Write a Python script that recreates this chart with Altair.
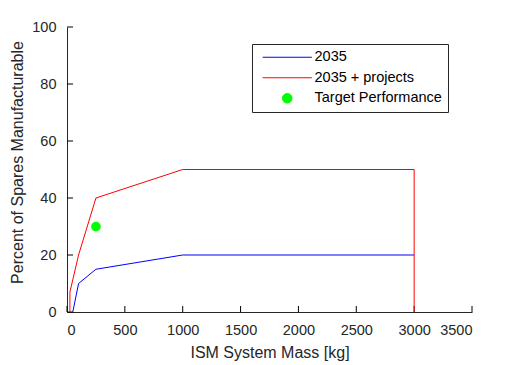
import altair as alt
import pandas as pd

# --- data ---
red_x = [25, 25, 100, 250, 1000, 3000, 3000]
red_y = [0, 7, 20, 40, 50, 50, 0]
blue_x = [50, 100, 250, 1000, 3000]
blue_y = [0, 10, 15, 20, 20]
target_x = [250]
target_y = [30]

series_names = ["2035", "2035 + projects", "Target Performance"]
series_colors = ["#0000ff", "#ff0000", "#00ff00"]
# legend / marker glyphs (unit paths scaled by sqrt(size)/2 = 6 px)
legend_shapes = ["M-4.1,0H4.1", "M-4.1,0H4.1",
                 "M-0.8,0A0.8,0.8 0 1,1 0.8,0A0.8,0.8 0 1,1 -0.8,0Z"]

x_ticks = [0, 500, 1000, 1500, 2000, 2500, 3000, 3500]
y_ticks = [0, 20, 40, 60, 80, 100]

lines_df = pd.concat([
    pd.DataFrame({"x": blue_x, "y": blue_y, "series": series_names[0],
                  "idx": range(len(blue_x))}),
    pd.DataFrame({"x": red_x, "y": red_y, "series": series_names[1],
                  "idx": range(len(red_x))}),
])
target_df = pd.DataFrame({"x": target_x, "y": target_y, "series": series_names[2]})
xt_df = pd.DataFrame({"x": x_ticks})
yt_df = pd.DataFrame({"y": y_ticks})

FONT = "Liberation Sans"
AX = "#262626"

legend = alt.Legend(
    title=None, orient="none", legendX=185, legendY=17,
    direction="vertical", fillColor="white", strokeColor=AX,
    padding=6, rowPadding=5.5, symbolStrokeWidth=1, symbolSize=144,
    symbolOffset=22,
    labelFont=FONT, labelFontSize=14.5, labelColor="black", labelOffset=20,
    labelLimit=300,
)

color_scale = alt.Scale(domain=series_names, range=series_colors)
shape_scale = alt.Scale(domain=series_names, range=legend_shapes)

x_enc = alt.X("x:Q", scale=alt.Scale(domain=[0, 3500], nice=False),
              axis=alt.Axis(values=x_ticks, title="ISM System Mass [kg]", format="d"))
y_enc = alt.Y("y:Q", scale=alt.Scale(domain=[0, 100], nice=False),
              axis=alt.Axis(values=y_ticks, title="Percent of Spares Manufacturable",
                            titleY=135))

lines = alt.Chart(lines_df).mark_line(strokeWidth=1, clip=True).encode(
    x=x_enc, y=y_enc,
    color=alt.Color("series:N", scale=color_scale, legend=legend),
    detail="series:N",
    order="idx:Q",
)

points = alt.Chart(target_df).mark_point(filled=True, opacity=1, size=144).encode(
    x=x_enc, y=y_enc,
    color=alt.Color("series:N", scale=color_scale, legend=legend),
    shape=alt.Shape("series:N", scale=shape_scale, legend=legend),
)

xticks = alt.Chart(xt_df).mark_rule(color="#000000", strokeWidth=1, opacity=1).encode(
    x=x_enc, y=alt.value(285), y2=alt.value(279))
yticks = alt.Chart(yt_df).mark_rule(color="#000000", strokeWidth=1, opacity=1).encode(
    y=y_enc, x=alt.value(0), x2=alt.value(6))

chart = alt.layer(xticks, yticks, lines, points).properties(
    width=405, height=285,
    autosize=alt.AutoSizeParams(type="none"),
    padding={"left": 59, "top": 19, "right": 42, "bottom": 53},
    background="white",
).configure_view(stroke=None).configure_axis(
    domainColor=AX, domainWidth=1,
    ticks=False, grid=False,
    labelFont=FONT, labelFontSize=14.5, labelColor=AX, labelPadding=11,
    titleFont=FONT, titleFontSize=16, titleColor=AX, titleFontWeight="normal",
).configure_axisX(titlePadding=8).configure_axisY(titlePadding=6)

chart.save("out.html", embed_options={"renderer": "svg", "actions": False})
